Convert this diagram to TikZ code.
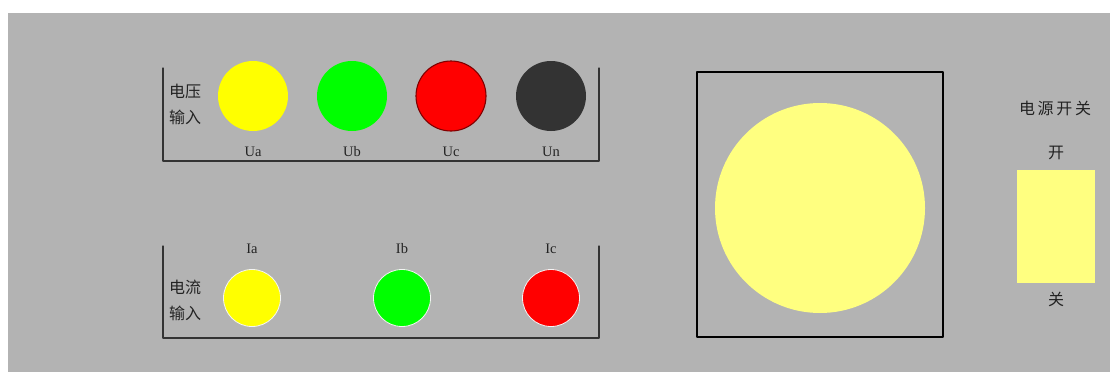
\documentclass[tikz,border=0pt]{standalone}
\usepackage{fontspec}
\setmainfont{Liberation Serif}
\newfontfamily\cjk{Noto Sans CJK SC}
\usetikzlibrary{positioning}

\definecolor{panelgray}{RGB}{179,179,179}
\definecolor{lampyellow}{RGB}{255,255,128}
\definecolor{jackyellow}{RGB}{255,255,0}
\definecolor{jackgreen}{RGB}{0,255,0}
\definecolor{jackred}{RGB}{255,0,0}
\definecolor{jackdark}{RGB}{51,51,51}
\definecolor{inkgray}{RGB}{35,35,35}

\tikzset{
  ujack/.style={circle,inner sep=0pt,minimum size=70pt},
  ijack/.style={circle,inner sep=0pt,minimum size=57pt,draw=white!85!panelgray,line width=0.8pt},
  jacklabel/.style={font=\fontsize{14.5}{14.5}\selectfont,text=inkgray},
  cjklabel/.style={font=\cjk\fontsize{16}{26}\selectfont,text=inkgray,align=center},
  bracket/.style={draw=jackdark,line width=1.3pt}
}

\begin{document}
\begin{tikzpicture}[x=1pt,y=-1pt,line cap=round,line join=round]
  \useasboundingbox (0,0) rectangle (1110,372);
  \fill[panelgray] (8,13) rectangle (1110,372);

  % voltage inputs
  \draw[bracket] (163,68) -- (163,161) -- (599,161) -- (599,68);
  \node[cjklabel] (uin) at (185,104) {电压\\输入};
  \foreach \name/\x/\col/\txt in {ua/253/jackyellow/Ua,ub/352/jackgreen/Ub,uc/451/jackred/Uc,un/551/jackdark/Un} {
    \node[ujack,fill=\col] (\name) at (\x,96) {};
    \node[jacklabel,below=12pt of \name] (\name lbl) {\txt};
  }
  \draw[red!50!black,line width=1.1pt] (uc) circle (35pt);

  % current inputs
  \draw[bracket] (163,246) -- (163,338) -- (599,338) -- (599,246);
  \node[cjklabel] (iin) at (185,300) {电流\\输入};
  \foreach \name/\x/\col/\txt in {ia/252/jackyellow/Ia,ib/402/jackgreen/Ib,ic/551/jackred/Ic} {
    \node[ijack,fill=\col] (\name) at (\x,298) {};
    \node[jacklabel,above=12pt of \name] (\name lbl) {\txt};
  }

  % lamp
  \draw[black,line width=1.6pt] (697,72) rectangle (943,337);
  \node[circle,fill=lampyellow,inner sep=0pt,minimum size=210pt] (lamp) at (820,208) {};

  % power switch
  \node[cjklabel] (pwr) at (1055,108) {电\,源\,开\,关};
  \node[fill=lampyellow,inner sep=0pt,minimum width=78pt,minimum height=113pt] (switch) at (1056,226) {};
  \node[cjklabel,above=6pt of switch] (on) {开};
  \node[cjklabel,below=6pt of switch] (off) {关};
\end{tikzpicture}
\end{document}
